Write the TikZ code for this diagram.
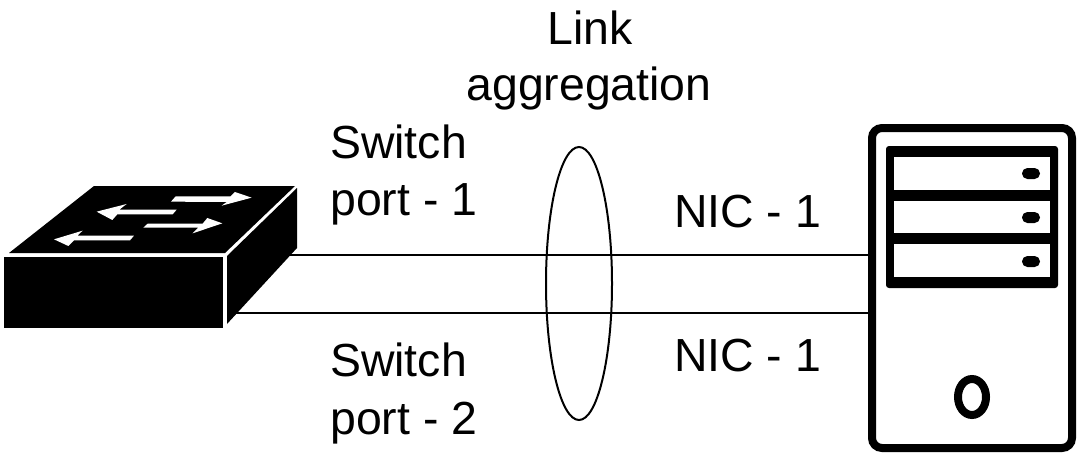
\documentclass[tikz,border=0pt]{standalone}
\usepackage{fontspec}
\setmainfont[FakeBold=0.3,AutoFakeBold=false]{Liberation Sans}
\tikzset{
  lbl/.style={inner sep=0pt,font=\fontsize{46.4}{46.4}\selectfont\bfseries,text=black},
  wire/.style={draw=black,line width=2pt},
  solidk/.style={fill=black,draw=none},
  whitef/.style={fill=white,draw=none}
}
\begin{document}
\begin{tikzpicture}[x=1pt,y=-1pt]
\useasboundingbox[fill=white] (0,0) rectangle (1082,460);
% wire anchors
\coordinate (sw1) at (290,254.5);
\coordinate (sw2) at (235,313);
\coordinate (srv1) at (868,254.5);
\coordinate (srv2) at (868,313);
\draw[wire] (sw1) -- (srv1);
\draw[wire] (sw2) -- (srv2);
% switch
\fill[solidk] (94,186) -- (295,186) -- (225,253) -- (9,253) -- cycle;
\fill[solidk] (4,257) rectangle (223,328);
\fill[solidk] (297,188) -- (297,248) -- (227,324) -- (227,256) -- cycle;
\begin{scope}[x=0.3333pt,y=-0.3333pt,yshift=-170pt]
\fill[whitef] (513,95) -- (527,79) -- (692,79) -- (705,66) -- (755,83) -- (665,107) -- (680,96) -- cycle;
\fill[whitef] (290,125) -- (380,102) -- (358,119) -- (530,119) -- (518,133) -- (352,133) -- (337,150) -- cycle;
\fill[whitef] (430,173) -- (443,161) -- (608,161) -- (622,144) -- (667,160) -- (578,190) -- (595,173) -- cycle;
\fill[whitef] (162,208) -- (248,182) -- (232,197) -- (402,197) -- (390,211) -- (222,211) -- (205,228) -- cycle;
\end{scope}
% server
\draw[line width=8pt,rounded corners=10pt,fill=white] (872,128) rectangle (1072,448);
\fill[solidk,rounded corners=3pt] (886,146) rectangle (1058,288);
\fill[whitef] (894,157) rectangle (1050,190);
\fill[whitef] (894,201) rectangle (1050,233);
\fill[whitef] (894,244) rectangle (1050,277);
\fill[solidk,rounded corners=5.4pt] (1022,168) rectangle (1040,179);
\fill[solidk,rounded corners=5.4pt] (1022,212) rectangle (1040,223);
\fill[solidk,rounded corners=5.4pt] (1022,256) rectangle (1040,267);
\draw[line width=8pt] (972,397) ellipse [x radius=14,y radius=18];
% aggregation ring
\draw[line width=2pt] (579,283.5) ellipse [x radius=33,y radius=136.5];
% labels
\node[lbl,anchor=base] (link) at (590,45) {Link};
\node[lbl,anchor=base] (agg) at (589,100) {aggregation};
\node[lbl,anchor=base west] (sp1a) at (330,158) {Switch};
\node[lbl,anchor=base west] (sp1b) at (330,215) {port - 1};
\node[lbl,anchor=base west] (nic1) at (674,227) {NIC - 1};
\node[lbl,anchor=base west] (sp2a) at (330,376) {Switch};
\node[lbl,anchor=base west] (sp2b) at (330,434) {port - 2};
\node[lbl,anchor=base west] (nic2) at (674,371) {NIC - 1};
\end{tikzpicture}
\end{document}
